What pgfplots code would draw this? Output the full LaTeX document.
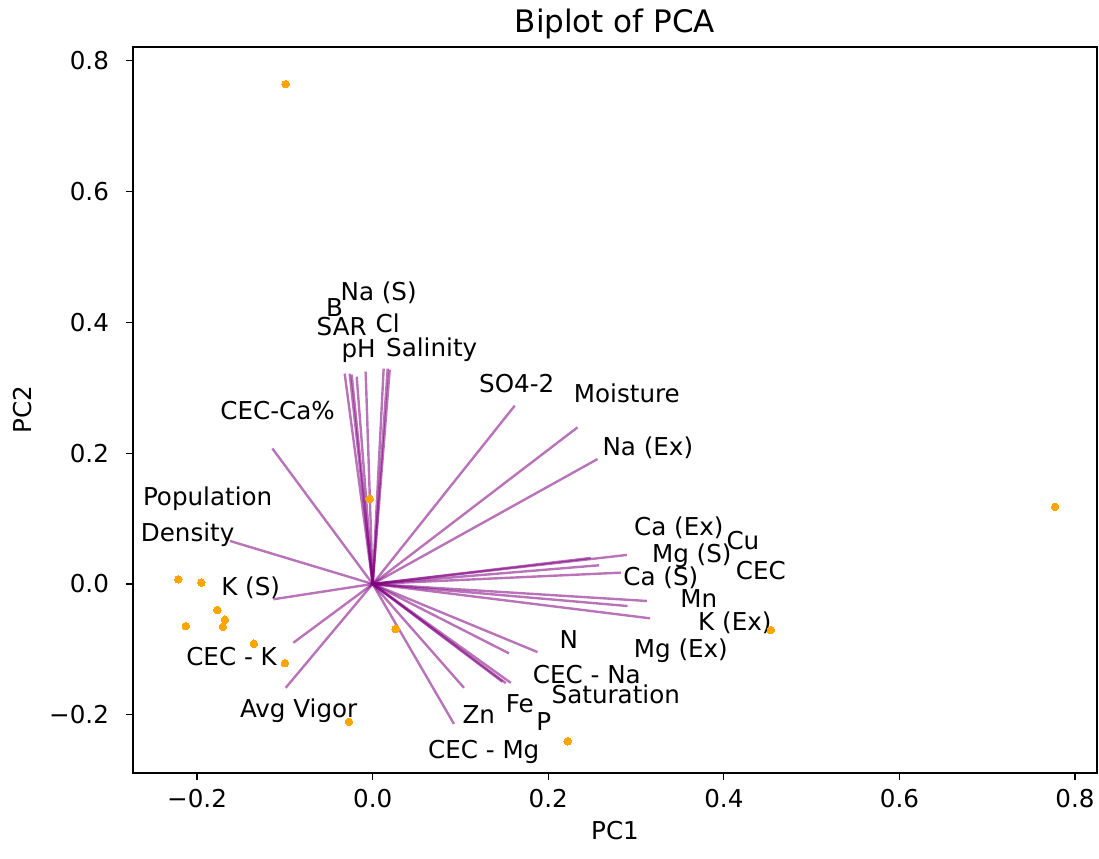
\documentclass[border=0pt]{standalone}
\usepackage{fontspec}
\setmainfont{DejaVu Sans}
\usepackage{pgfplots}
\pgfplotsset{compat=1.18}
\definecolor{arrowpurple}{HTML}{800080}
\definecolor{ptorange}{HTML}{FFA500}
\begin{document}
\begin{tikzpicture}
\begin{axis}[
  width=482pt, height=363pt, scale only axis,
  xmin=-0.273, xmax=0.825, ymin=-0.289, ymax=0.821,
  xtick={-0.2,0,0.2,0.4,0.6,0.8},
  xticklabels={−0.2,0.0,0.2,0.4,0.6,0.8},
  ytick={-0.2,0,0.2,0.4,0.6,0.8},
  yticklabels={−0.2,0.0,0.2,0.4,0.6,0.8},
  tick align=outside, tick pos=left,
  major tick length=3.5pt,
  tick style={black, line width=0.6pt},
  axis line style={black, line width=0.6pt},
  ticklabel style={font=\fontsize{12.3}{14}\selectfont},
  yticklabel style={xshift=-5pt},
  xticklabel style={yshift=-1pt},
  every axis title/.style={font=\fontsize{15.5}{18}\selectfont, at={(0.5,1)}, anchor=base, yshift=7pt},
  title={Biplot of PCA},
  xlabel={PC1}, ylabel={PC2},
  label style={font=\fontsize{12.3}{14}\selectfont},
  xlabel style={at={(axis description cs:0.5,0)}, anchor=base, yshift=-33.5pt},
  ylabel style={at={(axis description cs:0,0.5)}, anchor=base, yshift=50.5pt},
  clip=false,
]
% scores
\addplot[ptorange, only marks, mark=*, mark size=1.9pt, mark options={fill=ptorange, draw=ptorange, line width=0pt}] coordinates {
(-0.0991,0.7642) (0.7772,0.1179) (-0.0034,0.1302) (-0.2214,0.0072) (-0.1952,0.0020)
(-0.1770,-0.0398) (-0.1683,-0.0547) (-0.1706,-0.0654) (-0.2128,-0.0643) (-0.1353,-0.0914)
(-0.0999,-0.1210) (-0.0270,-0.2109) (0.0262,-0.0689) (0.2222,-0.2404) (0.4536,-0.0704)
};
% loadings
\addplot[arrowpurple, opacity=0.55, line width=1.2pt, quiver={u=\thisrow{u}, v=\thisrow{v}}] table {
x y u v
0 0 -0.0319 0.3216
0 0 -0.0262 0.3216
0 0 -0.0239 0.3201
0 0 -0.0182 0.3170
0 0 -0.0080 0.3247
0 0 0.0125 0.3292
0 0 0.0171 0.3292
0 0 0.0194 0.3277
0 0 0.1618 0.2726
0 0 0.2333 0.2394
0 0 0.2561 0.1910
0 0 -0.1143 0.2072
0 0 -0.1626 0.0658
0 0 -0.1132 -0.0234
0 0 -0.0904 -0.0899
0 0 -0.0991 -0.1588
0 0 0.2895 0.0444
0 0 0.2484 0.0398
0 0 0.2579 0.0286
0 0 0.2826 0.0173
0 0 0.3123 -0.0260
0 0 0.2903 -0.0337
0 0 0.3160 -0.0525
0 0 0.1877 -0.1041
0 0 0.1553 -0.1061
0 0 0.1573 -0.1511
0 0 0.1478 -0.1496
0 0 0.1516 -0.1516
0 0 0.1040 -0.1588
0 0 0.0926 -0.2140
};
\begin{scope}[every node/.style={font=\fontsize{12.3}{14}\selectfont, inner sep=0pt, text=black}]
\node at (axis cs:0.0068,0.4456) {Na (S)};
\node at (axis cs:-0.0433,0.4227) {B};
\node at (axis cs:-0.0353,0.3936) {SAR};
\node at (axis cs:0.0171,0.3982) {Cl};
\node at (axis cs:-0.0160,0.3568) {pH};
\node at (axis cs:0.0672,0.3583) {Salinity};
\node at (axis cs:0.1641,0.3063) {SO4-2};
\node at (axis cs:0.2895,0.2910) {Moisture};
\node at (axis cs:0.3134,0.2083) {Na (Ex)};
\node at (axis cs:-0.1083,0.2649) {CEC-Ca\%};
\node at (axis cs:-0.1880,0.1302) {Population};
\node at (axis cs:-0.2108,0.0750) {Density};
\node at (axis cs:-0.1390,-0.0061) {K (S)};
\node at (axis cs:-0.1607,-0.1103) {CEC - K};
\node at (axis cs:-0.0843,-0.1945) {Avg Vigor};
\node at (axis cs:0.3487,0.0858) {Ca (Ex)};
\node at (axis cs:0.4217,0.0658) {Cu};
\node at (axis cs:0.3635,0.0429) {Mg (S)};
\node at (axis cs:0.4422,0.0199) {CEC};
\node at (axis cs:0.3282,0.0092) {Ca (S)};
\node at (axis cs:0.3715,-0.0230) {Mn};
\node at (axis cs:0.4125,-0.0597) {K (Ex)};
\node at (axis cs:0.3510,-0.1026) {Mg (Ex)};
\node at (axis cs:0.2234,-0.0842) {N};
\node at (axis cs:0.2439,-0.1378) {CEC - Na};
\node at (axis cs:0.2769,-0.1685) {Saturation};
\node at (axis cs:0.1675,-0.1838) {Fe};
\node at (axis cs:0.1949,-0.2098) {P};
\node at (axis cs:0.1208,-0.1991) {Zn};
\node at (axis cs:0.1265,-0.2573) {CEC - Mg};
\end{scope}
\end{axis}
\pgfresetboundingbox
\path[use as bounding box] ([shift={(-66.5pt,-42.5pt)}]current axis.south west) rectangle ([shift={(1pt,23.5pt)}]current axis.north east);
\end{tikzpicture}
\end{document}
